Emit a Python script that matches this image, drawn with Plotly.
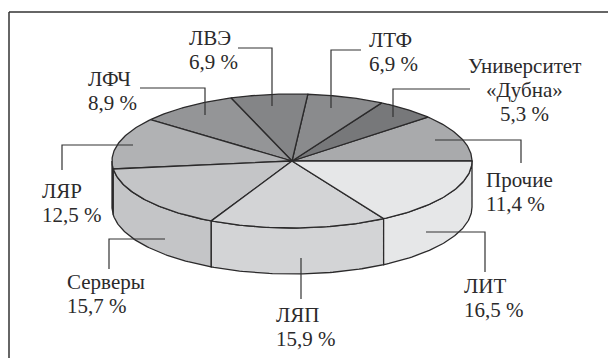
import numpy as np
import plotly.graph_objects as go

# Shares in percent, counter-clockwise from the east point of the disc
names = ["Прочие", "Университет<br>«Дубна»", "ЛТФ", "ЛВЭ", "ЛФЧ", "ЛЯР", "Серверы", "ЛЯП", "ЛИТ"]
shares = [11.4, 5.3, 6.9, 6.9, 8.9, 12.5, 15.7, 15.9, 16.5]

# Disc geometry in canvas units
CX, CY, RX, RY, DEPTH = 292, 161, 180, 67, 46
INK = "#2b2a2b"
LINE_STEP = 23.7

top_colors = ["#a9aaac", "#77787a", "#8a8b8d", "#848587", "#949597",
              "#b1b2b4", "#c4c5c7", "#d3d4d6", "#e6e7e8"]

# Label placement: x, y centre, horizontal anchor
label_pos = [(485, 192, "left"), (524, 90, "center"), (368, 52, "left"), (188, 50, "left"),
             (87, 91, "left"), (41, 203, "left"), (66, 294, "left"), (275, 327, "left"),
             (463, 298, "left")]

# Leader polylines running from each label into its slice
leaders = [
    ([435, 521, 521], [140, 140, 163]),
    ([470, 393, 393], [89, 89, 117]),
    ([361, 331, 331], [50, 50, 108]),
    ([238, 272, 272], [48, 48, 106]),
    ([140, 205, 205], [88, 88, 115]),
    ([62, 62, 133], [170, 145, 145]),
    ([109, 109, 165], [269, 239, 239]),
    ([301, 301], [299, 258]),
    ([485, 485, 426], [272, 232, 232]),
]


def rim(a0, a1, n=60):
    t = np.radians(np.linspace(a0, a1, n))
    return CX + RX * np.cos(t), CY - RY * np.sin(t)


edges = np.concatenate([[0], np.cumsum(shares) * 3.6])
fig = go.Figure()


def polygon(x, y, color):
    fig.add_trace(go.Scatter(x=x, y=y, mode="lines", fill="toself", fillcolor=color,
                             line=dict(color=INK, width=1.3), hoverinfo="skip",
                             showlegend=False))


# Side wall: only the part of each slice on the near half of the disc
for i, c in enumerate(top_colors):
    a0, a1 = max(edges[i], 180), min(edges[i + 1], 360)
    if a1 <= a0:
        continue
    x, y = rim(a0, a1)
    polygon(np.r_[x, x[::-1], x[0]], np.r_[y, y[::-1] + DEPTH, y[0]], c)

# Top face
for i, c in enumerate(top_colors):
    x, y = rim(edges[i], edges[i + 1])
    polygon(np.r_[CX, x, CX], np.r_[CY, y, CY], c)

for lx, ly in leaders:
    fig.add_trace(go.Scatter(x=lx, y=ly, mode="lines", line=dict(color="#333333", width=1.2),
                             hoverinfo="skip", showlegend=False))

# Each label line is placed separately to hold a tight leading
for name, share, (x, y, anchor) in zip(names, shares, label_pos):
    rows = name.split("<br>") + [f"{share:.1f} %".replace(".", ",")]
    for k, row in enumerate(rows):
        fig.add_annotation(x=x, y=y + (k - (len(rows) - 1) / 2) * LINE_STEP, text=row,
                           showarrow=False, xanchor=anchor, yanchor="middle", borderpad=0,
                           font=dict(family="Liberation Serif", size=21, color="#2b2a2b"))

# Frame: left and top rules only
fig.add_shape(type="line", x0=9, x1=9, y0=12, y1=358, line=dict(color="#666666", width=2))
fig.add_shape(type="line", x0=9, x1=608, y0=12, y1=12, line=dict(color="#333333", width=1.5))

fig.update_layout(
    width=608, height=358, margin=dict(l=0, r=0, t=0, b=0),
    paper_bgcolor="white", plot_bgcolor="white", showlegend=False,
    xaxis=dict(range=[0, 608], visible=False, fixedrange=True),
    yaxis=dict(range=[358, 0], visible=False, fixedrange=True),
)
fig.write_html("out.html", config={"displayModeBar": False})
